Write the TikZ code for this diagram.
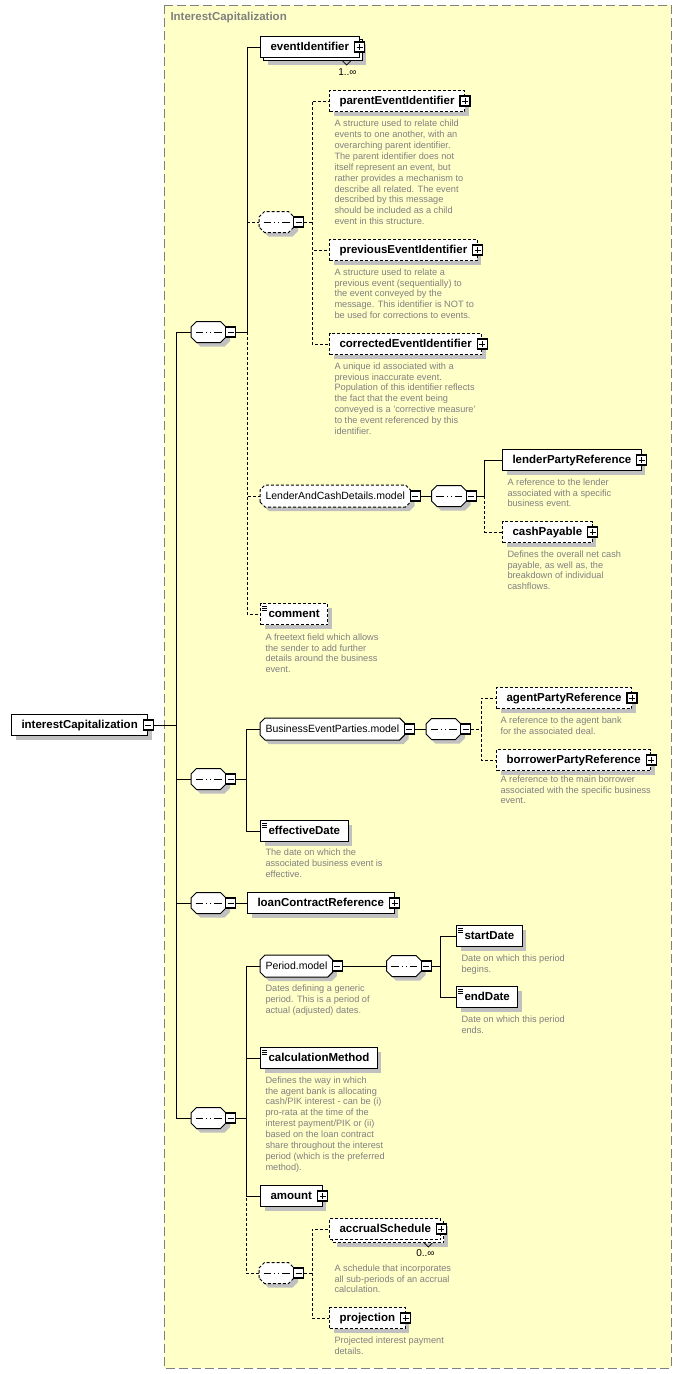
\documentclass[tikz,border=0pt]{standalone}
\usepackage{fontspec}
\setmainfont{Liberation Sans}
\usetikzlibrary{shadows}

\definecolor{panel}{RGB}{255,255,200}
\definecolor{frame}{RGB}{128,128,128}
\definecolor{descgray}{RGB}{128,128,128}
\definecolor{shadowgray}{RGB}{192,192,192}

% box with cut corners, for model groups and sequences
\makeatletter
\newdimen\octl \newdimen\octr \newdimen\octb \newdimen\octt
\newdimen\octli \newdimen\octri \newdimen\octbi \newdimen\octti
\pgfkeys{/pgf/octagon cut/.initial=5pt}
\pgfdeclareshape{octagonbox}{%
  \inheritsavedanchors[from=rectangle]
  \inheritanchorborder[from=rectangle]
  \inheritanchor[from=rectangle]{center}
  \inheritanchor[from=rectangle]{north}
  \inheritanchor[from=rectangle]{south}
  \inheritanchor[from=rectangle]{west}
  \inheritanchor[from=rectangle]{east}
  \inheritanchor[from=rectangle]{north west}
  \inheritanchor[from=rectangle]{north east}
  \inheritanchor[from=rectangle]{south west}
  \inheritanchor[from=rectangle]{south east}
  \inheritanchor[from=rectangle]{base}
  \inheritanchor[from=rectangle]{mid}
  \backgroundpath{%
    \southwest \octl=\pgf@x \octb=\pgf@y
    \northeast \octr=\pgf@x \octt=\pgf@y
    \octli=\octl \advance\octli by \pgfkeysvalueof{/pgf/octagon cut}\relax
    \octri=\octr \advance\octri by -\pgfkeysvalueof{/pgf/octagon cut}\relax
    \octbi=\octb \advance\octbi by \pgfkeysvalueof{/pgf/octagon cut}\relax
    \octti=\octt \advance\octti by -\pgfkeysvalueof{/pgf/octagon cut}\relax
    \pgfpathmoveto{\pgfqpoint{\octl}{\octbi}}
    \pgfpathlineto{\pgfqpoint{\octl}{\octti}}
    \pgfpathlineto{\pgfqpoint{\octli}{\octt}}
    \pgfpathlineto{\pgfqpoint{\octri}{\octt}}
    \pgfpathlineto{\pgfqpoint{\octr}{\octti}}
    \pgfpathlineto{\pgfqpoint{\octr}{\octbi}}
    \pgfpathlineto{\pgfqpoint{\octri}{\octb}}
    \pgfpathlineto{\pgfqpoint{\octli}{\octb}}
    \pgfpathclose
  }
}
\makeatother

\tikzset{
  opt/.style={dash pattern=on 3pt off 2pt},
  base/.style={draw, fill=white, anchor=west, minimum height=21pt, text height=8.5pt, text depth=2.5pt},
  shad/.style={drop shadow={shadow xshift=4pt, shadow yshift=-4pt, fill=shadowgray, opacity=1}},
  elem/.style={base, shad, font=\bfseries\fontsize{11.5}{13}\selectfont, inner xsep=10pt},
  multi/.style={base, drop shadow={shadow xshift=7pt, shadow yshift=-7pt, fill=shadowgray, opacity=1},
    copy shadow={shadow xshift=3pt, shadow yshift=-3pt},
    font=\bfseries\fontsize{11.5}{13}\selectfont, inner xsep=10pt},
  simple/.style={elem, inner xsep=8pt, path picture={
    \foreach \k in {2.5,4.5,6.5}
      \draw[solid, line width=0.7pt] ([xshift=1.5pt, yshift=-\k pt]path picture bounding box.north west) -- ++(5pt,0pt);}},
  model/.style={base, shad, octagonbox, octagon cut=5pt, inner xsep=5pt,
    font=\fontsize{10.5}{13}\selectfont},
  seqbox/.style={octagonbox, octagon cut=5.5pt, draw, fill=white, minimum width=34pt, minimum height=20pt,
    inner sep=0pt, shad, path picture={
    \draw[solid] ([xshift=4.5pt]path picture bounding box.west) -- ([xshift=-4.5pt]path picture bounding box.east);
    \foreach \k in {-4,0,4}
      \fill ([xshift=\k pt]path picture bounding box.center) +(-1.5pt,-1.5pt) rectangle +(1.5pt,1.5pt);}},
  pmbox/.style={draw, solid, fill=white, line width=1.2pt, minimum size=10pt, inner sep=0pt},
  minusbox/.style={pmbox, path picture={
    \draw[line width=1pt] ([xshift=2pt]path picture bounding box.west) -- ([xshift=-2pt]path picture bounding box.east);}},
  plusbox/.style={pmbox, path picture={
    \draw[line width=1pt] ([xshift=2pt]path picture bounding box.west) -- ([xshift=-2pt]path picture bounding box.east)
          ([yshift=-2pt]path picture bounding box.north) -- ([yshift=2pt]path picture bounding box.south);}},
  desc/.style={anchor=north west, align=left, inner sep=0pt, text=descgray, font=\fontsize{9.2}{10.9}\selectfont},
  mult/.style={anchor=east, inner sep=0pt, font=\fontsize{10}{12}\selectfont},
}

\begin{document}
\begin{tikzpicture}[x=1pt, y=-1pt, line width=1pt]
\useasboundingbox (0,0) rectangle (682,1374);
\fill[white] (0,0) rectangle (682,1374);
\draw[frame, fill=panel, dash pattern=on 9pt off 4pt] (164,5) rectangle (671,1368);
\node[anchor=west, inner sep=0pt, text=frame, font=\bfseries\fontsize{11.5}{13}\selectfont] (title) at (170,18) {InterestCapitalization};

% root
\node[elem] (root) at (11,725) {interestCapitalization};
\node[minusbox] (root-m) at (root.east) {};

% sequences on the trunk
\node[seqbox] (s1) at (208.5,332) {};
\node[minusbox, anchor=west] (s1-m) at ([xshift=-1pt]s1.east) {};
\node[seqbox] (s2) at (208.5,779) {};
\node[minusbox, anchor=west] (s2-m) at ([xshift=-1pt]s2.east) {};
\node[seqbox] (s3) at (208.5,903) {};
\node[minusbox, anchor=west] (s3-m) at ([xshift=-1pt]s3.east) {};
\node[seqbox] (s4) at (208.5,1118) {};
\node[minusbox, anchor=west] (s4-m) at ([xshift=-1pt]s4.east) {};

% first sequence
\node[multi] (evid) at (260,47) {eventIdentifier};
\node[plusbox] (evid-p) at (evid.east) {};
\draw[line width=0.8pt] ([xshift=-17pt,yshift=-3pt]evid.south east) -- ++(4pt,-4pt) -- ++(4pt,4pt);
\node[mult] (evid-n) at (357,72) {1..∞};

\node[seqbox, opt] (sA) at (276.5,222) {};
\node[minusbox, anchor=west] (sA-m) at ([xshift=-1pt]sA.east) {};

\node[elem, opt] (parent) at (329,101) {parentEventIdentifier};
\node[plusbox] (parent-p) at (parent.east) {};
\node[desc] (parent-d) at (334,119.5) {A structure used to relate child\\events to one another, with an\\overarching parent identifier.\\The parent identifier does not\\itself represent an event, but\\rather provides a mechanism to\\describe all related. The event\\described by this message\\should be included as a child\\event in this structure.};

\node[elem, opt] (prev) at (329,250) {previousEventIdentifier};
\node[plusbox] (prev-p) at (prev.east) {};
\node[desc] (prev-d) at (334,268) {A structure used to relate a\\previous event (sequentially) to\\the event conveyed by the\\message. This identifier is NOT to\\be used for corrections to events.};

\node[elem, opt] (corr) at (329,344) {correctedEventIdentifier};
\node[plusbox] (corr-p) at (corr.east) {};
\node[desc] (corr-d) at (334,362) {A unique id associated with a\\previous inaccurate event.\\Population of this identifier reflects\\the fact that the event being\\conveyed is a 'corrective measure'\\to the event referenced by this\\identifier.};

\node[model, opt] (lcd) at (260,496) {LenderAndCashDetails.model};
\node[minusbox, anchor=west] (lcd-m) at ([xshift=-1pt]lcd.east) {};
\node[seqbox] (sB) at (449,496) {};
\node[minusbox, anchor=west] (sB-m) at ([xshift=-1pt]sB.east) {};

\node[elem] (lender) at (502,460) {lenderPartyReference};
\node[plusbox] (lender-p) at (lender.east) {};
\node[desc] (lender-d) at (507,478) {A reference to the lender\\associated with a specific\\business event.};

\node[elem, opt] (cash) at (502,532) {cashPayable};
\node[plusbox] (cash-p) at (cash.east) {};
\node[desc] (cash-d) at (507,550) {Defines the overall net cash\\payable, as well as, the\\breakdown of individual\\cashflows.};

\node[simple, opt] (comment) at (260,614) {comment};
\node[desc] (comment-d) at (265,633) {A freetext field which allows\\the sender to add further\\details around the business\\event.};

% second sequence
\node[model] (bep) at (260,729) {BusinessEventParties.model};
\node[minusbox, anchor=west] (bep-m) at ([xshift=-1pt]bep.east) {};
\node[seqbox] (sC) at (443.5,729) {};
\node[minusbox, anchor=west] (sC-m) at ([xshift=-1pt]sC.east) {};

\node[elem, opt] (agent) at (496,698) {agentPartyReference};
\node[plusbox] (agent-p) at (agent.east) {};
\node[desc] (agent-d) at (500,716) {A reference to the agent bank\\for the associated deal.};

\node[elem, opt] (borrower) at (496,760) {borrowerPartyReference};
\node[plusbox] (borrower-p) at (borrower.east) {};
\node[desc] (borrower-d) at (500,775) {A reference to the main borrower\\associated with the specific business\\event.};

\node[simple] (effdate) at (260,831) {effectiveDate};
\node[desc] (effdate-d) at (265,848.5) {The date on which the\\associated business event is\\effective.};

% third sequence
\node[elem] (loan) at (247,903) {loanContractReference};
\node[plusbox] (loan-p) at (loan.east) {};

% fourth sequence
\node[model] (period) at (260,966) {Period.model};
\node[minusbox, anchor=west] (period-m) at ([xshift=-1pt]period.east) {};
\node[desc] (period-d) at (265,984.5) {Dates defining a generic\\period. This is a period of\\actual (adjusted) dates.};
\node[seqbox] (sE) at (404,966) {};
\node[minusbox, anchor=west] (sE-m) at ([xshift=-1pt]sE.east) {};

\node[simple] (start) at (456,936) {startDate};
\node[desc] (start-d) at (461,954) {Date on which this period\\begins.};
\node[simple] (end) at (456,997) {endDate};
\node[desc] (end-d) at (461,1015) {Date on which this period\\ends.};

\node[simple] (calc) at (260,1058) {calculationMethod};
\node[desc] (calc-d) at (265,1076) {Defines the way in which\\the agent bank is allocating\\cash/PIK interest - can be (i)\\pro-rata at the time of the\\interest payment/PIK or (ii)\\based on the loan contract\\share throughout the interest\\period (which is the preferred\\method).};

\node[elem] (amount) at (260,1196) {amount};
\node[plusbox] (amount-p) at (amount.east) {};

\node[seqbox, opt] (sD) at (276.5,1273) {};
\node[minusbox, anchor=west] (sD-m) at ([xshift=-1pt]sD.east) {};

\node[multi, opt] (accrual) at (329,1229) {accrualSchedule};
\node[plusbox] (accrual-p) at (accrual.east) {};
\draw[line width=0.8pt] ([xshift=-17pt,yshift=-3pt]accrual.south east) -- ++(4pt,-4pt) -- ++(4pt,4pt);
\node[mult] (accrual-n) at (435,1253) {0..∞};
\node[desc] (accrual-d) at (334,1264) {A schedule that incorporates\\all sub-periods of an accrual\\calculation.};

\node[elem, opt] (proj) at (329,1318) {projection};
\node[plusbox] (proj-p) at (proj.east) {};
\node[desc] (proj-d) at (334,1336) {Projected interest payment\\details.};

% junctions
\coordinate (t0) at (176,725);
\coordinate (b1) at ([xshift=11pt]s1-m.east);
\coordinate (bA) at ([xshift=8pt]sA-m.east);
\coordinate (bB) at ([xshift=8pt]sB-m.east);
\coordinate (b2) at ([xshift=10pt]s2-m.east);
\coordinate (bC) at ([xshift=10pt]sC-m.east);
\coordinate (b4) at ([xshift=10pt]s4-m.east);
\coordinate (bE) at ([xshift=9pt]sE-m.east);
\coordinate (bD) at ([xshift=8pt]sD-m.east);

% optional connectors
\draw[opt] (b1) |- (sA.west);
\draw[opt] (b1) |- (lcd.west);
\draw[opt] (b1) |- (comment.west);
\draw[opt] (sA-m.east) -- (bA) |- (parent.west);
\draw[opt] (bA) |- (prev.west);
\draw[opt] (bA) |- (corr.west);
\draw[opt] (bB) |- (cash.west);
\draw[opt] (sC-m.east) -- (bC) |- (agent.west);
\draw[opt] (bC) |- (borrower.west);
\draw[opt] (b4) |- (sD.west);
\draw[opt] (sD-m.east) -- (bD) |- (accrual.west);
\draw[opt] (bD) |- (proj.west);

% required connectors
\draw (root-m.east) -- (t0);
\draw (t0) |- (s1.west);
\draw (t0) |- (s2.west);
\draw (t0) |- (s3.west);
\draw (t0) |- (s4.west);
\draw (s1-m.east) -- (b1) |- (evid.west);
\draw (lcd-m.east) -- (sB.west);
\draw (sB-m.east) -- (bB) |- (lender.west);
\draw (s2-m.east) -- (b2) |- (bep.west);
\draw (b2) |- (effdate.west);
\draw (bep-m.east) -- (sC.west);
\draw (s3-m.east) -- (loan.west);
\draw (s4-m.east) -- (b4) |- (period.west);
\draw (b4) |- (calc.west);
\draw (b4) |- (amount.west);
\draw (period-m.east) -- (sE.west);
\draw (sE-m.east) -- (bE) |- (start.west);
\draw (bE) |- (end.west);
\end{tikzpicture}
\end{document}
